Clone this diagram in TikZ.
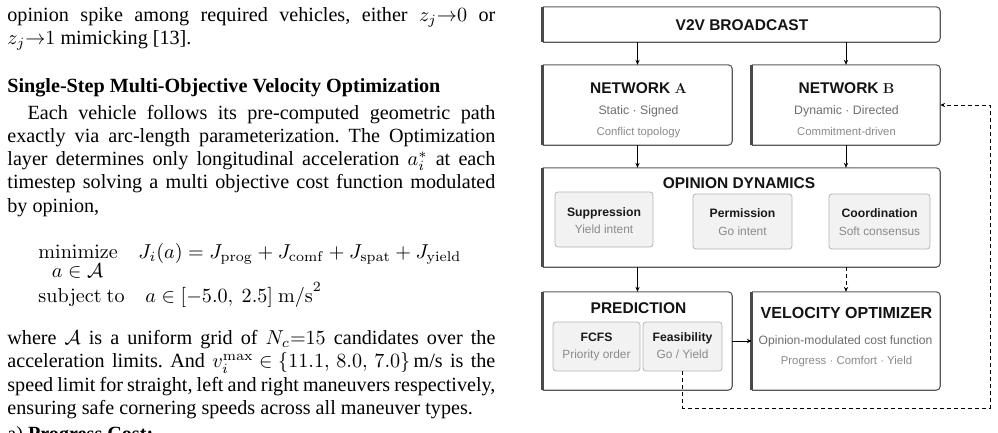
\documentclass[tikz,border=0pt]{standalone}
\usepackage[no-math]{fontspec}
\setmainfont{Liberation Serif}
\newfontfamily\arialf{Liberation Sans}
\usetikzlibrary{arrows.meta}
\definecolor{pborder}{HTML}{5A5A5A}
\definecolor{pbar}{HTML}{4A4A4A}
\definecolor{subA}{HTML}{6E6E6E}
\definecolor{subB}{HTML}{8A8A8A}
\definecolor{ifill}{HTML}{F2F2F2}
\definecolor{iborder}{HTML}{B5B5B5}
\newcommand\mypanel[1]{%
  \draw[pborder, line width=1.1pt, rounded corners=4pt] (#1.north west) -- (#1.north east) -- (#1.south east) -- (#1.south west);
  \draw[pbar, line width=2.8pt] (#1.north west) -- (#1.south west);}
\newcommand\jline[1]{\hbox to 242.2pt{#1}}
\tikzset{
  txt/.style={inner sep=0pt, anchor=base west, font=\fontsize{10}{12}\selectfont\frenchspacing, scale=2.015, transform shape},
  panel/.style={fill=white, inner sep=0pt},
  inbox/.style={fill=ifill, draw=iborder, line width=0.8pt, rounded corners=3pt, inner sep=0pt},
  hdr/.style={inner sep=0pt, anchor=base, font=\arialf\bfseries\fontsize{15.5}{18}\selectfont, text=black!92},
  ihdr/.style={inner sep=0pt, anchor=base, font=\arialf\bfseries\fontsize{12.2}{14}\selectfont, text=black!90},
  subone/.style={inner sep=0pt, anchor=base, font=\arialf\fontsize{12.3}{14}\selectfont, text=subA},
  subtwo/.style={inner sep=0pt, anchor=base, font=\arialf\fontsize{11.3}{13}\selectfont, text=subB},
  isub/.style={inner sep=0pt, anchor=base, font=\arialf\fontsize{11.9}{13}\selectfont, text=subB},
  arr/.style={-{Stealth[length=5pt,width=4.2pt]}, line width=0.9pt, black},
  dsh/.style={dash pattern=on 4pt off 3pt}
}
\begin{document}
\begin{tikzpicture}[x=1pt,y=-1pt]
\useasboundingbox (0,0) rectangle (998,432);
% ---------- left column text ----------
\node[txt] (l1) at (7,21) {\jline{opinion spike among required vehicles, either \mbox{$z_j{\rightarrow}0$} or}};
\node[txt] (l2) at (7,44.3) {$z_j{\rightarrow}1$ mimicking [13].};
\node[txt] (hd) at (7,92) {\bfseries Single-Step Multi-Objective Velocity Optimization};
\node[txt] (l3) at (7,119) {\jline{\hspace*{10pt}Each vehicle follows its pre-computed geometric path}};
\node[txt] (l4) at (7,142.3) {\jline{exactly via arc-length parameterization. The Optimization}};
\node[txt] (l5) at (7,165.6) {\jline{layer determines only longitudinal acceleration \mbox{$a_i^*$} at each}};
\node[txt] (l6) at (7,188.9) {\jline{timestep solving a multi objective cost function modulated}};
\node[txt] (l7) at (7,212.2) {by opinion,};
\node[txt] (fmin) at (38,258) {$\mathrm{minimize}$};
\node[txt, anchor=base] (fset) at (77.5,277.5) {$a\in\mathcal{A}$};
\node[txt] (fobj) at (138,258) {$J_i(a)=J_{\mathrm{prog}}+J_{\mathrm{comf}}+J_{\mathrm{spat}}+J_{\mathrm{yield}}$};
\node[txt] (fst) at (38,302) {$\mathrm{subject\ to}$};
\node[txt] (fcon) at (145,302) {$a\in[-5.0,\ 2.5]\ \mathrm{m/s}^2$};
\node[txt] (l8) at (7,344.5) {\jline{where \mbox{$\mathcal{A}$} is a uniform grid of \mbox{$N_c{=}15$} candidates over the}};
\node[txt] (l9) at (7,367.8) {\jline{acceleration limits. And \mbox{$v_i^{\max}\in\{11.1,\,8.0,\,7.0\}$}\,m/s is the}};
\node[txt] (l10) at (7,391.1) {\jline{speed limit for straight, left and right maneuvers respectively,}};
\node[txt] (l11) at (7,414.4) {ensuring safe cornering speeds across all maneuver types.};
\node[txt] (l12) at (7,440.5) {a) \textbf{Progress Cost:}};
% ---------- diagram panels ----------
\node[panel, minimum width=397pt, minimum height=35pt] (v2v) at (741.5,24.5) {};
\node[panel, minimum width=189pt, minimum height=80pt] (netA) at (637.5,105) {};
\node[panel, minimum width=188pt, minimum height=80pt] (netB) at (846,105) {};
\node[panel, minimum width=397pt, minimum height=99pt] (op) at (741.5,217.5) {};
\node[panel, minimum width=189pt, minimum height=98pt] (pred) at (637.5,341) {};
\node[panel, minimum width=188pt, minimum height=98pt] (vel) at (846,341) {};
\mypanel{v2v}\mypanel{netA}\mypanel{netB}\mypanel{op}\mypanel{pred}\mypanel{vel}
% inner boxes
\node[inbox, minimum width=98pt, minimum height=55pt] (sup) at (604,219.5) {};
\node[inbox, minimum width=99pt, minimum height=55pt] (per) at (742.5,221.5) {};
\node[inbox, minimum width=101pt, minimum height=55pt] (coo) at (879.5,221.5) {};
\node[inbox, minimum width=87pt, minimum height=49pt] (fcfs) at (596.5,346.5) {};
\node[inbox, minimum width=79pt, minimum height=49pt] (feas) at (682.5,346.5) {};
% texts
\node[hdr] (v2vt) at (742,30.5) {V2V BROADCAST};
\node[hdr] (netAt) at (638.5,93.5) {NETWORK $\mathbf{A}$};
\node[subone] (netAs) at (638.5,114.4) {Static · Signed};
\node[subtwo] (netAu) at (638.5,135) {Conflict topology};
\node[hdr] (netBt) at (846.5,93.5) {NETWORK $\mathbf{B}$};
\node[subone] (netBs) at (846.5,114.4) {Dynamic · Directed};
\node[subtwo] (netBu) at (846.5,135) {Commitment-driven};
\node[hdr] (opt) at (739,188.5) {OPINION DYNAMICS};
\node[ihdr] (supt) at (604,216.4) {Suppression};
\node[isub] (sups) at (604,233.3) {Yield intent};
\node[ihdr] (pert) at (742.5,217.4) {Permission};
\node[isub] (pers) at (742.5,235.3) {Go intent};
\node[ihdr] (coot) at (879.5,217.4) {Coordination};
\node[isub] (coos) at (879.5,235.3) {Soft consensus};
\node[hdr] (predt) at (638.5,313.5) {PREDICTION};
\node[ihdr] (fcfst) at (596.5,341.4) {FCFS};
\node[isub] (fcfss) at (596.5,358.3) {Priority order};
\node[ihdr] (feast) at (682.5,341.4) {Feasibility};
\node[isub] (feass) at (682.5,358.3) {Go / Yield};
\node[hdr, font=\arialf\bfseries\fontsize{16}{18}\selectfont] (velt) at (846.5,318.7) {VELOCITY OPTIMIZER};
\node[subone, font=\arialf\fontsize{12.1}{14}\selectfont] (vels) at (845.5,344.3) {Opinion-modulated cost function};
\node[subtwo, font=\arialf\fontsize{11.4}{13}\selectfont] (velu) at (846.5,364.1) {Progress · Comfort · Yield};
% ---------- connectors ----------
\draw[arr] (netA.north |- v2v.south) -- (netA.north);
\draw[arr] (netB.north |- v2v.south) -- (netB.north);
\draw[arr] (netA.south) -- (netA.south |- op.north);
\draw[arr] (netB.south) -- (netB.south |- op.north);
\draw[arr] (pred.north |- op.south) -- (pred.north);
\draw[arr, dsh] (vel.north |- op.south) -- (vel.north);
\draw[arr] (pred.east) -- (vel.west);
\coordinate (fbR) at (990,408);
\draw[arr, dsh] (feas.south) -- (feas.south |- fbR) -- (fbR) |- (netB.east);
\end{tikzpicture}
\end{document}
